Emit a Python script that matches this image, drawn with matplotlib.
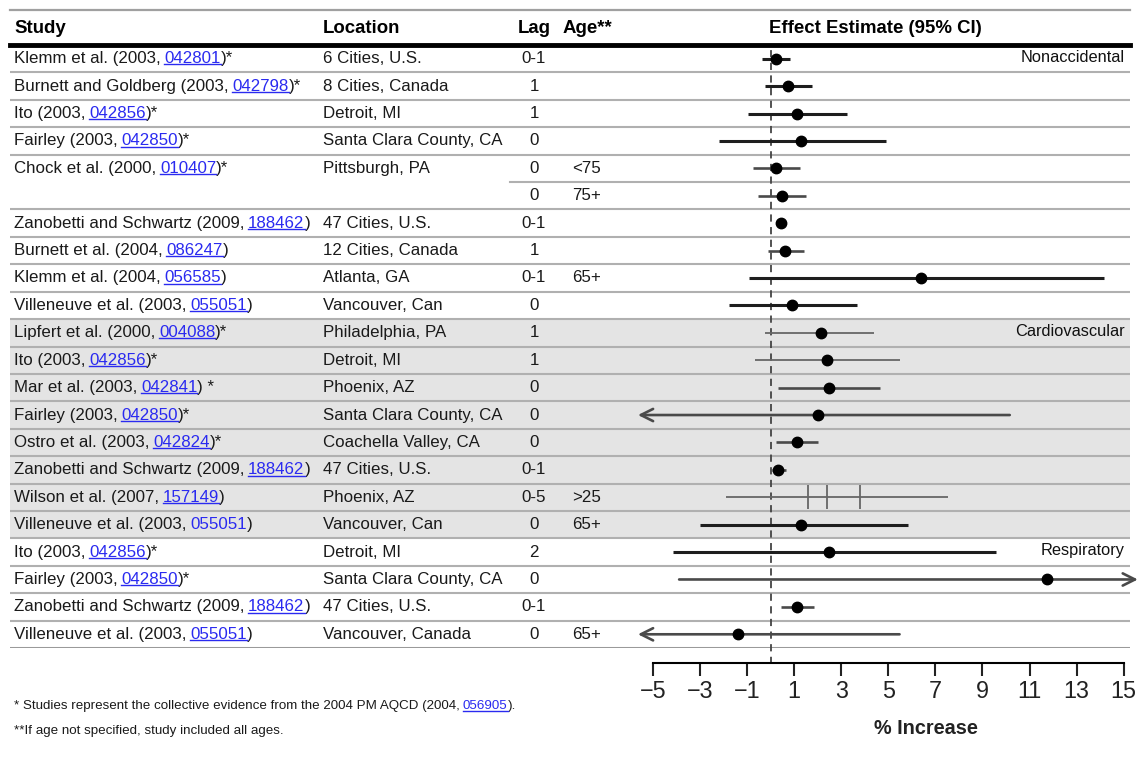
import numpy as np
import matplotlib
matplotlib.use("Agg")
import matplotlib.pyplot as plt
from matplotlib import font_manager as fm
from matplotlib.lines import Line2D
from matplotlib.transforms import blended_transform_factory, IdentityTransform

names = {f.name for f in fm.fontManager.ttflist}
if "Liberation Sans Narrow" in names:
    FONT, FS = "Liberation Sans Narrow", 1.0
else:
    FONT, FS = "Liberation Sans", 0.84
plt.rcParams["font.family"] = [FONT, "DejaVu Sans"]

# ---- data (rows top to bottom) ----
study = ["Klemm et al.", "Burnett and Goldberg", "Ito", "Fairley", "Chock et al.", "",
         "Zanobetti and Schwartz", "Burnett et al.", "Klemm et al.", "Villeneuve et al.",
         "Lipfert et al.", "Ito", "Mar et al.", "Fairley", "Ostro et al.",
         "Zanobetti and Schwartz", "Wilson et al.", "Villeneuve et al.",
         "Ito", "Fairley", "Zanobetti and Schwartz", "Villeneuve et al."]
year = ["2003", "2003", "2003", "2003", "2000", "", "2009", "2004", "2004", "2003",
        "2000", "2003", "2003", "2003", "2003", "2009", "2007", "2003",
        "2003", "2003", "2009", "2003"]
ref = ["042801", "042798", "042856", "042850", "010407", "", "188462", "086247", "056585", "055051",
       "004088", "042856", "042841", "042850", "042824", "188462", "157149", "055051",
       "042856", "042850", "188462", "055051"]
suffix = [")*", ")*", ")*", ")*", ")*", "", ")", ")", ")", ")",
          ")*", ")*", ") *", ")*", ")*", ")", ")", ")",
          ")*", ")*", ")", ")"]
location = ["6 Cities, U.S.", "8 Cities, Canada", "Detroit, MI", "Santa Clara County, CA",
            "Pittsburgh, PA", "", "47 Cities, U.S.", "12 Cities, Canada", "Atlanta, GA",
            "Vancouver, Can", "Philadelphia, PA", "Detroit, MI", "Phoenix, AZ",
            "Santa Clara County, CA", "Coachella Valley, CA", "47 Cities, U.S.", "Phoenix, AZ",
            "Vancouver, Can", "Detroit, MI", "Santa Clara County, CA", "47 Cities, U.S.",
            "Vancouver, Canada"]
lag = ["0-1", "1", "1", "0", "0", "0", "0-1", "1", "0-1", "0",
       "1", "1", "0", "0", "0", "0-1", "0-5", "0",
       "2", "0", "0-1", "0"]
age = ["", "", "", "", "<75", "75+", "", "", "65+", "",
       "", "", "", "", "", "", ">25", "65+",
       "", "", "", "65+"]
# None = interval runs off the scale (drawn as an arrow)
est = [0.22, 0.76, 1.14, 1.28, 0.23, 0.49, 0.45, 0.62, 6.39, 0.93,
       2.13, 2.39, 2.47, 2.00, 1.11, 0.33, None, 1.28,
       2.50, 11.75, 1.14, -1.37]
lo = [-0.37, -0.23, -0.94, -2.18, -0.73, -0.52, 0.30, -0.09, -0.90, -1.75,
      -0.23, -0.66, 0.30, None, 0.22, 0.05, -1.91, -3.00,
      -4.14, -3.88, 0.43, None]
hi = [0.83, 1.75, 3.24, 4.90, 1.26, 1.50, 0.60, 1.43, 14.16, 3.67,
      4.40, 5.51, 4.66, 10.16, 2.03, 0.66, 7.54, 5.82,
      9.58, None, 1.86, 5.48]
wilson_est = [1.61, 2.42, 3.81]
groups = ["Nonaccidental", "Cardiovascular", "Respiratory"]
group_start = [0, 10, 18]
no_underline = [17]

line_dark = [0, 1, 2, 3, 8, 9, 17, 18]
line_thin = [10, 11, 16]

n = len(study)
W, H = 1142, 759
fig = plt.figure(figsize=(W / 100, H / 100), dpi=100)
ax = fig.add_axes([10 / W, 1 - 648 / H, 1120 / W, 603 / H])
ax.set_xlim((10 - 770.5) / 23.55, (1130 - 770.5) / 23.55)
ax.set_ylim(n - 0.5, -0.5)
xmin_arrow, xmax_arrow = -5.63, 15.6

# background band + row lines
ax.axhspan(group_start[1] - 0.5, group_start[2] - 0.5, color="#e4e4e4", lw=0, zorder=0)
for i in range(n - 1):
    ax.axhline(i + 0.5, 0.446 if i == 4 else 0, 1, color="#b0b0b0", lw=1.5, zorder=1)
ax.axhline(n - 0.5, color="#9a9a9a", lw=2.2, zorder=1)
ax.axhline(-1.78, color="#a0a0a0", lw=1.6, clip_on=False)

for s in ["left", "right"]:
    ax.spines[s].set_visible(False)
ax.spines["top"].set_linewidth(3.5)
ax.spines["top"].set_color("black")
ax.spines["bottom"].set_position(("outward", 11))
ax.spines["bottom"].set_bounds(-5, 15)
ax.spines["bottom"].set_linewidth(1.5)
ax.set_yticks([])
ax.set_xticks(np.arange(-5, 16, 2))
ax.tick_params(axis="x", length=9, width=1.5, pad=3, labelsize=20 * FS, colors="#222222")

ax.axvline(0, -0.026, 0.992, ls=(0, (4, 3)), color="#444444", lw=1.3, clip_on=False, zorder=2)

# intervals and points
for i in range(n):
    if i in line_dark:
        c, lw = "#1e1e1e", 2.2
    elif i in line_thin:
        c, lw = "#666666", 1.3
    else:
        c, lw = "#4a4a4a", 1.9
    a = lo[i] if lo[i] is not None else xmin_arrow
    b = hi[i] if hi[i] is not None else xmax_arrow
    if lo[i] is None or hi[i] is None:
        tip, start = (a, b) if lo[i] is None else (b, a)
        ax.annotate("", xy=(tip, i), xytext=(start, i), annotation_clip=False,
                    arrowprops=dict(arrowstyle="->", color=c, lw=lw, mutation_scale=22,
                                    shrinkA=0, shrinkB=0, clip_on=False))
    else:
        ax.plot([a, b], [i, i], color=c, lw=lw, solid_capstyle="butt", zorder=3)
    if est[i] is not None:
        ax.plot(est[i], i, "o", color="black", ms=7.5, zorder=4)
    else:
        ax.plot(wilson_est, [i] * len(wilson_est), "|", color=c, ms=17, mew=1.3, zorder=3)

# table text
tr = blended_transform_factory(fig.transFigure, ax.transData)
txt_c = "#1a1a1a"
link_c = "#2a2af0"
rs = 14.5 * FS
links = []


def rich(x, y, parts, transform, size):
    t = ax.text(x, y, parts[0][0], transform=transform, fontsize=size,
                color=txt_c, va="center", ha="left")
    prev = t
    for s, is_link, gap in parts[1:]:
        prev = ax.annotate(s, xy=(1, 0), xycoords=prev, xytext=(gap, 0),
                           textcoords="offset points", fontsize=size,
                           color=link_c if is_link else txt_c, va="bottom", ha="left")
        if is_link:
            links.append(prev)
    return t


for i in range(n):
    if study[i]:
        rich(14 / W, i, [(f"{study[i]} ({year[i]},",), (ref[i], True, 3.2 * FS),
                         (suffix[i], False, 0)], tr, rs)
        if i in no_underline:
            links.pop()
    ax.text(323 / W, i, location[i], transform=tr, fontsize=rs, color=txt_c, va="center")
    ax.text(534 / W, i, lag[i], transform=tr, fontsize=rs, color=txt_c, va="center", ha="center")
    ax.text(572 / W, i, age[i], transform=tr, fontsize=rs, color=txt_c, va="center")

for g, s in zip(groups, group_start):
    ax.text(1125 / W, s - 0.05, g, transform=tr, fontsize=14 * FS, color="#111111",
            va="center", ha="right")

hy = -1.12
hs = 16 * FS
ax.text(14 / W, hy, "Study", transform=tr, fontsize=hs, fontweight="bold", va="center")
ax.text(323 / W, hy, "Location", transform=tr, fontsize=hs, fontweight="bold", va="center")
ax.text(534 / W, hy, "Lag", transform=tr, fontsize=hs, fontweight="bold", va="center", ha="center")
ax.text(563 / W, hy, "Age**", transform=tr, fontsize=hs, fontweight="bold", va="center")
ax.text(875 / W, hy, "Effect Estimate (95% CI)", transform=tr, fontsize=hs,
        fontweight="bold", va="center", ha="center")

ax.set_xlabel("% Increase", fontsize=17 * FS, fontweight="bold", color="#222222")
ax.xaxis.set_label_coords((926 - 10) / 1120, (648 - 728) / 603)
ax.xaxis.label.set_va("center")

fs = 11.5 * FS
rich(14 / W, 1 - 706 / H, [("* Studies represent the collective evidence from the 2004 PM AQCD (2004,",),
                           ("056905", True, 2.5 * FS), (").", False, 0)], fig.transFigure, fs)
fig.text(14 / W, 1 - 731 / H, "**If age not specified, study included all ages.", fontsize=fs,
         color=txt_c, va="center")

# underline the reference numbers
fig.canvas.draw()
for t in links:
    bb = t.get_window_extent()
    y = bb.y0 + 0.12 * bb.height
    fig.add_artist(Line2D([bb.x0, bb.x1], [y, y], transform=IdentityTransform(),
                          color=link_c, lw=1.0))

fig.savefig("out.png", dpi=100)
